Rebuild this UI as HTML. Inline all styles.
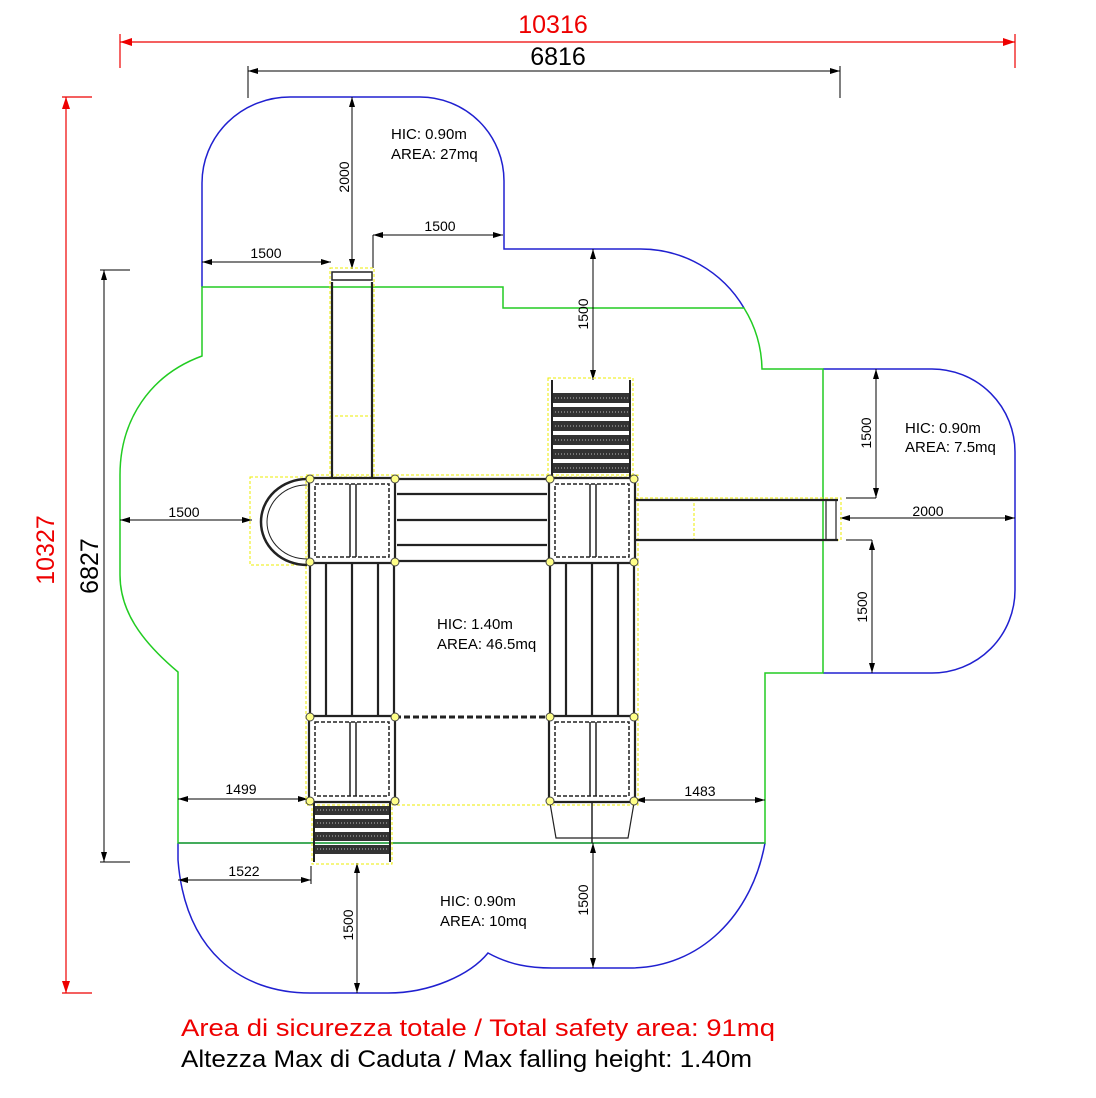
<!DOCTYPE html>
<html><head><meta charset="utf-8"><style>
html,body{margin:0;padding:0;background:#fff;}
svg{display:block;font-family:"Liberation Sans",sans-serif;}
</style></head><body>
<svg width="1096" height="1098" viewBox="0 0 1096 1098" xmlns="http://www.w3.org/2000/svg">
<defs>
<marker id="ab" markerWidth="10" markerHeight="6" refX="10" refY="3" orient="auto-start-reverse" markerUnits="userSpaceOnUse"><path d="M0,0 L10,3 L0,6 z" fill="#000"/></marker>
<marker id="ar" markerWidth="12" markerHeight="8" refX="12" refY="4" orient="auto-start-reverse" markerUnits="userSpaceOnUse"><path d="M0,0 L12,4 L0,8 z" fill="#e00"/></marker>
</defs>

<g stroke="#e00" stroke-width="1.2" fill="none">
<line x1="120" y1="42" x2="1015" y2="42" marker-start="url(#ar)" marker-end="url(#ar)"/>
<line x1="120" y1="34" x2="120" y2="68"/><line x1="1015" y1="34" x2="1015" y2="68"/>
<line x1="66" y1="97" x2="66" y2="993" marker-start="url(#ar)" marker-end="url(#ar)"/>
<line x1="62" y1="97" x2="92" y2="97"/><line x1="62" y1="993" x2="92" y2="993"/>
</g>
<text x="553" y="33" font-size="25" fill="#e00" text-anchor="middle">10316</text>
<text x="62" y="550" font-size="25" fill="#e00" text-anchor="middle" transform="rotate(-90 62 550)" dy="-8">10327</text>
<g stroke="#000" stroke-width="1" fill="none">
<line x1="248" y1="71" x2="840" y2="71" marker-start="url(#ab)" marker-end="url(#ab)"/>
<line x1="248" y1="66" x2="248" y2="98"/><line x1="840" y1="66" x2="840" y2="98"/>
<line x1="104" y1="270" x2="104" y2="862" marker-start="url(#ab)" marker-end="url(#ab)"/>
<line x1="100" y1="270" x2="130" y2="270"/><line x1="100" y1="862" x2="130" y2="862"/>
</g>
<text x="558" y="65" font-size="25" fill="#000" text-anchor="middle">6816</text>
<text x="98" y="566" font-size="25" fill="#000" text-anchor="middle" transform="rotate(-90 98 566)">6827</text>

<g stroke="#2020d0" stroke-width="1.5" fill="none">
<path d="M202,287 L202,183 A88,86 0 0 1 290,97 L420,97 A84,84 0 0 1 504,181 L504,249 L640,249 A120,120 0 0 1 744,308"/>
<path d="M823,369 L932,369 A83,83 0 0 1 1015,452 L1015,590 A83,83 0 0 1 932,673 L823,673"/>
<path d="M178,843 L178,860 C185,950 240,993 310,993 L388,993 C430,993 470,975 488,953 C510,965 530,968 552,968 L630,968 C700,968 752,915 765,843"/>
</g>
<g stroke="#22cc22" stroke-width="1.5" fill="none">
<path d="M202,287 L503,287 L503,308 L744,308 A120,120 0 0 1 762,369 L823,369 L823,673 L765,673 L765,843 L178,843 L178,672 C140,640 120,610 120,575 L120,475 C120,420 150,375 202,356 Z"/>
</g>
<line x1="178" y1="843" x2="765" y2="843" stroke="#2a9a4a" stroke-width="1.5"/>

<g stroke="#000" stroke-width="1" fill="none">
<line x1="352" y1="97" x2="352" y2="269" marker-start="url(#ab)" marker-end="url(#ab)"/>
<line x1="202" y1="262" x2="331" y2="262" marker-start="url(#ab)" marker-end="url(#ab)"/>
<line x1="373" y1="235" x2="503" y2="235" marker-start="url(#ab)" marker-end="url(#ab)"/>
<line x1="373" y1="235" x2="373" y2="268"/>
<line x1="593" y1="249" x2="593" y2="380" marker-start="url(#ab)" marker-end="url(#ab)"/>
<line x1="120" y1="520" x2="252" y2="520" marker-start="url(#ab)" marker-end="url(#ab)"/>
<line x1="876" y1="369" x2="876" y2="498" marker-start="url(#ab)" marker-end="url(#ab)"/>
<line x1="846" y1="498" x2="876" y2="498"/>
<line x1="840" y1="518" x2="1015" y2="518" marker-start="url(#ab)" marker-end="url(#ab)"/>
<line x1="872" y1="540" x2="872" y2="673" marker-start="url(#ab)" marker-end="url(#ab)"/>
<line x1="846" y1="540" x2="872" y2="540"/>
<line x1="178" y1="799" x2="308" y2="799" marker-start="url(#ab)" marker-end="url(#ab)"/>
<line x1="635" y1="800" x2="765" y2="800" marker-start="url(#ab)" marker-end="url(#ab)"/>
<line x1="178" y1="880" x2="311" y2="880" marker-start="url(#ab)" marker-end="url(#ab)"/>
<line x1="311" y1="866" x2="311" y2="884"/>
<line x1="357" y1="863" x2="357" y2="993" marker-start="url(#ab)" marker-end="url(#ab)"/>
<line x1="593" y1="843" x2="593" y2="968" marker-start="url(#ab)" marker-end="url(#ab)"/>
</g>
<g font-size="14" fill="#000" text-anchor="middle">
<text x="266" y="258">1500</text>
<text x="440" y="231">1500</text>
<text x="184" y="517">1500</text>
<text x="928" y="516">2000</text>
<text x="241" y="794">1499</text>
<text x="700" y="796">1483</text>
<text x="244" y="876">1522</text>
<text transform="translate(349,177) rotate(-90)">2000</text>
<text transform="translate(588,314) rotate(-90)">1500</text>
<text transform="translate(871,433) rotate(-90)">1500</text>
<text transform="translate(867,607) rotate(-90)">1500</text>
<text transform="translate(353,925) rotate(-90)">1500</text>
<text transform="translate(588,900) rotate(-90)">1500</text>
</g>
<g font-size="15" fill="#000">
<text x="391" y="139">HIC: 0.90m</text><text x="391" y="159">AREA: 27mq</text>
<text x="905" y="433">HIC: 0.90m</text><text x="905" y="452">AREA: 7.5mq</text>
<text x="437" y="629">HIC: 1.40m</text><text x="437" y="649">AREA: 46.5mq</text>
<text x="440" y="906">HIC: 0.90m</text><text x="440" y="926">AREA: 10mq</text>
</g>

<g fill="none" stroke="#ee0" stroke-width="1" stroke-dasharray="3,2">
<rect x="330" y="268" width="44" height="209"/>
<line x1="330" y1="416" x2="374" y2="416"/>
<rect x="250" y="477" width="58" height="88"/>
<rect x="548" y="378" width="85" height="99"/>
<rect x="635" y="498" width="206" height="42"/>
<line x1="694" y1="498" x2="694" y2="540"/>
<rect x="312" y="802" width="80" height="62"/>
<rect x="306" y="475" width="332" height="330"/>
</g>
<g fill="none" stroke="#222" stroke-width="2.2">
<path d="M332,282 L332,477 M372,282 L372,477"/>
<rect x="332" y="272" width="40" height="8" stroke-width="1.5"/>
<path d="M307,479 A46,43 0 0 0 307,565" stroke-width="2.5"/>
<path d="M307,485 A40,37 0 0 0 307,559" stroke-width="1"/>
<rect x="309" y="478" width="86" height="85" rx="4"/>
<rect x="549" y="478" width="86" height="85" rx="4"/>
<rect x="309" y="716" width="86" height="86" rx="4"/>
<rect x="549" y="716" width="86" height="86" rx="4"/>
<rect x="315" y="484" width="74" height="73" stroke-width="1.5" stroke-dasharray="4,2"/>
<rect x="555" y="484" width="74" height="73" stroke-width="1.5" stroke-dasharray="4,2"/>
<rect x="315" y="722" width="74" height="74" stroke-width="1.5" stroke-dasharray="4,2"/>
<rect x="555" y="722" width="74" height="74" stroke-width="1.5" stroke-dasharray="4,2"/>
<path d="M350,484 V557 M356,484 V557 M590,484 V557 M596,484 V557 M350,722 V796 M356,722 V796 M590,722 V796 M596,722 V796" stroke-width="1.5"/>
<path d="M310,563 V716 M394,563 V716 M326,563 V716 M352,563 V716 M378,563 V716"/>
<path d="M550,563 V716 M634,563 V716 M566,563 V716 M592,563 V716 M618,563 V716"/>
<path d="M395,479 H549 M395,561 H549 M397,494 H547 M397,520 H547 M397,545 H547" />
<path d="M395,717 H549" stroke-width="3" stroke-dasharray="6,3"/>
<path d="M635,500 H838 M635,540 H838" />
<rect x="826" y="500" width="10" height="40" stroke-width="1.2"/>
<path d="M550,803 L556,838 L628,838 L634,803" stroke-width="1.2"/>
<path d="M592,803 V843" stroke-width="1.5"/>
</g>
<g fill="#333">
<rect x="552" y="393" width="78" height="10"/><rect x="552" y="407" width="78" height="10"/>
<rect x="552" y="421" width="78" height="10"/><rect x="552" y="435" width="78" height="10"/>
<rect x="552" y="449" width="78" height="10"/><rect x="552" y="463" width="78" height="10"/>
<rect x="314" y="806" width="76" height="9"/><rect x="314" y="819" width="76" height="9"/>
<rect x="314" y="832" width="76" height="9"/><rect x="314" y="845" width="76" height="9"/>
</g>
<g stroke="#bbb" stroke-width="1" stroke-dasharray="1,2">
<path d="M552,398 H630 M552,412 H630 M552,426 H630 M552,440 H630 M552,454 H630 M552,468 H630 M314,810 H390 M314,823 H390 M314,836 H390 M314,849 H390"/>
</g>
<g stroke="#222" stroke-width="2"><path d="M552,380 V477 M630,380 V477 M314,802 V862 M390,802 V862"/></g>
<g fill="#ff8" stroke="#444" stroke-width="1">
<circle cx="310" cy="479" r="4"/><circle cx="395" cy="479" r="4"/><circle cx="550" cy="479" r="4"/><circle cx="634" cy="479" r="4"/>
<circle cx="310" cy="562" r="4"/><circle cx="395" cy="562" r="4"/><circle cx="550" cy="562" r="4"/><circle cx="634" cy="562" r="4"/>
<circle cx="310" cy="717" r="4"/><circle cx="395" cy="717" r="4"/><circle cx="550" cy="717" r="4"/><circle cx="634" cy="717" r="4"/>
<circle cx="310" cy="801" r="4"/><circle cx="395" cy="801" r="4"/><circle cx="550" cy="801" r="4"/><circle cx="634" cy="801" r="4"/>
</g>

<text x="181" y="1036" font-size="24" fill="#e00" textLength="594" lengthAdjust="spacingAndGlyphs">Area di sicurezza totale / Total safety area: 91mq</text>
<text x="181" y="1067" font-size="24" fill="#000" textLength="571" lengthAdjust="spacingAndGlyphs">Altezza Max di Caduta / Max falling height: 1.40m</text>
</svg>
</body></html>
